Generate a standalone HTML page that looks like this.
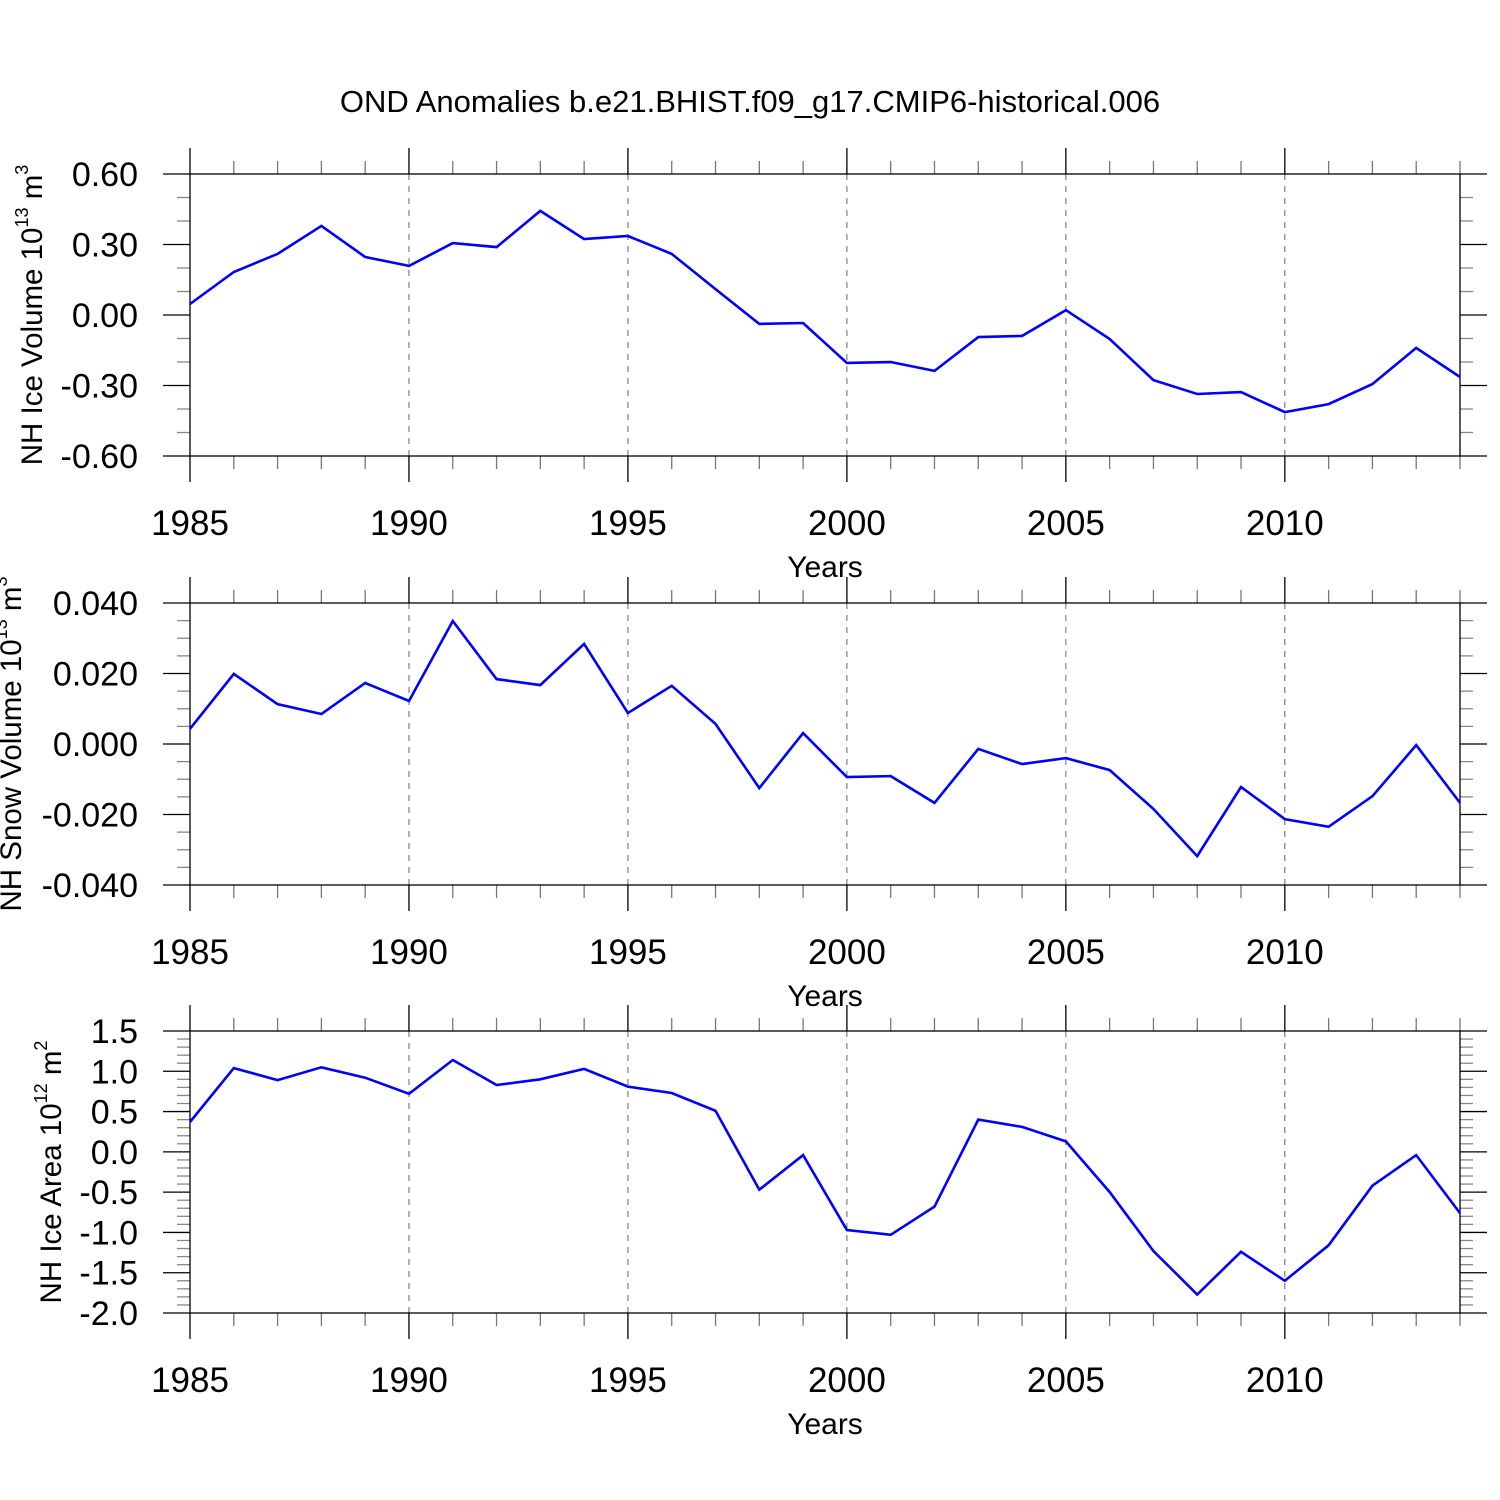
<!DOCTYPE html>
<html><head><meta charset="utf-8"><style>
html,body{margin:0;padding:0;background:#fff;}
svg{display:block;font-family:"Liberation Sans",Arial,sans-serif;}
</style></head><body>
<svg id="chart" width="1500" height="1500" viewBox="0 0 1500 1500" xmlns="http://www.w3.org/2000/svg">
<rect x="0" y="0" width="1500" height="1500" fill="#fff"/>
<text x="750" y="112" font-size="31" text-anchor="middle">OND Anomalies b.e21.BHIST.f09_g17.CMIP6-historical.006</text>
</svg>
<script>
const years = [1985,1986,1987,1988,1989,1990,1991,1992,1993,1994,1995,1996,1997,1998,1999,2000,2001,2002,2003,2004,2005,2006,2007,2008,2009,2010,2011,2012,2013,2014];
const iceVolume = [0.047,0.183,0.26,0.379,0.247,0.209,0.306,0.289,0.443,0.323,0.336,0.26,0.11,-0.038,-0.034,-0.204,-0.2,-0.238,-0.094,-0.089,0.021,-0.102,-0.277,-0.336,-0.328,-0.413,-0.379,-0.294,-0.14,-0.264];
const snowVolume = [0.0043,0.0199,0.0113,0.0085,0.0173,0.0122,0.0349,0.0184,0.0167,0.0284,0.0088,0.0165,0.0057,-0.0125,0.0031,-0.0094,-0.0091,-0.0167,-0.0014,-0.0057,-0.004,-0.0074,-0.0184,-0.0318,-0.0122,-0.0213,-0.0235,-0.0148,-0.0003,-0.0167];
const iceArea = [0.37,1.04,0.89,1.05,0.92,0.72,1.14,0.83,0.9,1.03,0.81,0.73,0.51,-0.47,-0.04,-0.97,-1.03,-0.68,0.4,0.31,0.13,-0.5,-1.23,-1.77,-1.24,-1.6,-1.16,-0.42,-0.04,-0.76];
const xTickLabels = ["1985","1990","1995","2000","2005","2010"];
const iceVolTicks = ["0.60","0.30","0.00","-0.30","-0.60"];
const snowTicks = ["0.040","0.020","0.000","-0.020","-0.040"];
const areaTicks = ["1.5","1.0","0.5","0.0","-0.5","-1.0","-1.5","-2.0"];

const svg = document.getElementById('chart');
const NS = 'http://www.w3.org/2000/svg';
function mk(tag, attrs, parent){const e=document.createElementNS(NS,tag);for(const k in attrs)e.setAttribute(k,attrs[k]);(parent||svg).appendChild(e);return e;}

const X0=190, X1=1460;
function xs(yr){return X0+(yr-1985)*(X1-X0)/29;}

function panel(o){
  const g=mk('g',{});
  
  
  const ys=v=>o.top+(o.max-v)*(o.bot-o.top)/(o.max-o.min);
  for(let yr=1990; yr<=2010; yr+=5){
    const l=mk('line',{x1:xs(yr),x2:xs(yr),y1:o.top,y2:o.bot,stroke:'#666','stroke-width':1,'stroke-dasharray':'6,6'},g);
    
    
  }
  for(let yr=1985; yr<=2014; yr++){
    const major=(yr%5===0); const L=major?26:13;
    mk('line',{x1:xs(yr),x2:xs(yr),y1:o.top-L,y2:o.top,stroke:major?'#000':'#777','stroke-width':1.3},g);
    mk('line',{x1:xs(yr),x2:xs(yr),y1:o.bot,y2:o.bot+L,stroke:major?'#000':'#777','stroke-width':1.3},g);
  }
  const nMin=Math.round((o.max-o.min)/o.minor);
  for(let i=0;i<=nMin;i++){
    const v=o.max-i*o.minor; const major=(i%o.per===0); const L=major?27:13;
    const y=ys(v);
    mk('line',{x1:X0-L,x2:X0,y1:y,y2:y,stroke:major?'#000':'#888','stroke-width':1.3},g);
    mk('line',{x1:X1,x2:X1+L,y1:y,y2:y,stroke:major?'#000':'#888','stroke-width':1.3},g);
  }
  o.ticks.forEach((t,i)=>{
    const v=o.max-i*o.minor*o.per;
    const tx=mk('text',{x:138,y:ys(v)+12,'font-size':34,'text-anchor':'end'},g);
    tx.textContent=t;
    
    
  });
  xTickLabels.forEach(t=>{
    const tx=mk('text',{x:xs(+t),y:o.bot+79,'font-size':35,'text-anchor':'middle'},g);
    tx.textContent=t;
    
    
  });
  const xt=mk('text',{x:825,y:o.bot+121,'font-size':30,'text-anchor':'middle'},g);
  xt.textContent='Years';
  
  
  const cy=(o.top+o.bot)/2;
  const yt=mk('text',{x:o.tx,y:cy,'font-size':29.5,'text-anchor':'middle',transform:`rotate(-90 ${o.tx} ${cy})`},g);
  yt.innerHTML=o.label+' 10<tspan font-size="18" dy="-14">'+o.exp+'</tspan><tspan dy="14"> m</tspan><tspan font-size="18" dy="-14">'+o.unit+'</tspan>';
  
  
  const f=mk('rect',{x:X0,y:o.top,width:X1-X0,height:o.bot-o.top,fill:'none',stroke:'#000','stroke-width':1.3},g);
  
  
  const pts=years.map((yr,i)=>xs(yr).toFixed(1)+','+ys(o.data[i]).toFixed(1)).join(' ');
  const pl=mk('polyline',{points:pts,fill:'none',stroke:'#0000ff','stroke-width':2.6,'stroke-linejoin':'miter'},g);
  
  
}
panel({name:'ice-volume-panel',top:174,bot:456,max:0.6,min:-0.6,minor:0.1,per:3,ticks:iceVolTicks,data:iceVolume,label:'NH Ice Volume',exp:'13',unit:'3',tx:42});
panel({name:'snow-volume-panel',top:603,bot:885,max:0.04,min:-0.04,minor:0.005,per:4,ticks:snowTicks,data:snowVolume,label:'NH Snow Volume',exp:'13',unit:'3',tx:21});
panel({name:'ice-area-panel',top:1031,bot:1313,max:1.5,min:-2.0,minor:0.1,per:5,ticks:areaTicks,data:iceArea,label:'NH Ice Area',exp:'12',unit:'2',tx:61});
</script>
</body></html>
